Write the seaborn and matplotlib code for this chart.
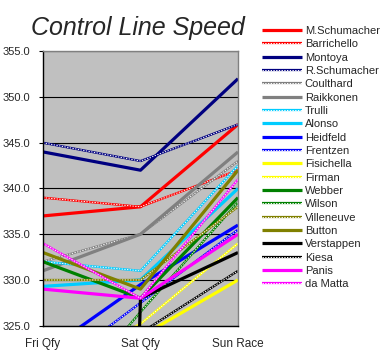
"""Control line speed per driver over the race weekend."""

import matplotlib

matplotlib.use("Agg")
import matplotlib.pyplot as plt
import pandas as pd
import seaborn as sns

sessions = ["Fri Qfy", "Sat Qfy", "Sun Race"]
drivers = [
    "M.Schumacher", "Barrichello", "Montoya", "R.Schumacher", "Coulthard",
    "Raikkonen", "Trulli", "Alonso", "Heidfeld", "Frentzen", "Fisichella",
    "Firman", "Webber", "Wilson", "Villeneuve", "Button", "Verstappen",
    "Kiesa", "Panis", "da Matta",
]
# speeds in km/h (Verstappen has no Friday time -> 0 like the source sheet)
fri_qfy = [337, 339, 344, 345, 332, 331, 332, 329.3, 322, 319.5, 318,
           320, 332, 314, 330, 333, 0, 316, 329, 334]
sat_qfy = [338, 338, 342, 343, 335, 335, 331, 330, 329.5, 327.5, 323.8,
           325.2, 328, 326.5, 330, 329, 328, 324.2, 328, 328]
sun_race = [347, 342, 352, 347, 343, 344, 342.5, 340, 336, 335.5, 330,
            334, 339, 338.5, 338, 342, 333, 331, 335, 341]

colors = ["#FF0000", "#FF0000", "#000080", "#000080", "#808080",
          "#808080", "#00CCFF", "#00CCFF", "#0000FF", "#0000FF", "#FFFF00",
          "#FFFF00", "#008000", "#008000", "#808000", "#808000", "#000000",
          "#000000", "#FF00FF", "#FF00FF"]
dotted = ["Barrichello", "R.Schumacher", "Coulthard", "Trulli", "Frentzen",
          "Firman", "Wilson", "Villeneuve", "Kiesa", "da Matta"]

df = pd.DataFrame({
    "driver": [d for d in drivers for _ in sessions],
    "pos": [i for _ in drivers for i in range(len(sessions))],
    "speed": [v for trio in zip(fri_qfy, sat_qfy, sun_race) for v in trio],
})

sns.set_style("white")
plt.rcParams["font.family"] = ["Liberation Sans", "DejaVu Sans"]

fig = plt.figure(figsize=(3.85, 3.6), dpi=100)
ax = fig.add_axes([43 / 385, 1 - 325.7 / 360, 195 / 385, 274.4 / 360])
ax.set_facecolor("#C0C0C0")

handles = []
for name, col in zip(drivers, colors):
    sub = df[df["driver"] == name]
    if name in dotted:
        sns.lineplot(sub, x="pos", y="speed", color=col, lw=1.6, ax=ax,
                     legend=False, solid_capstyle="butt")
        base = ax.lines[-1]
        sns.lineplot(sub, x="pos", y="speed", color="white", lw=0.7, ax=ax,
                     legend=False, dashes=False)
        top = ax.lines[-1]
        top.set_linestyle((0, (1.4, 1.4)))
        handles.append((base, top))
    else:
        sns.lineplot(sub, x="pos", y="speed", color=col, lw=2.3, ax=ax,
                     legend=False, solid_capstyle="butt")
        handles.append(ax.lines[-1])

ax.set_xlim(0, 2)
ax.set_ylim(325, 355)
ax.set_yticks(range(325, 356, 5))
ax.yaxis.set_major_formatter("{x:.1f}")
ax.set_xticks(range(len(sessions)))
ax.set_xticklabels(sessions)
ax.set_xlabel("")
ax.set_ylabel("")
ax.grid(axis="y", color="black", lw=0.8)
ax.set_axisbelow(True)
ax.tick_params(axis="y", direction="out", length=3, width=0.8, color="black",
               labelsize=8, pad=6, left=True)
ax.tick_params(axis="x", length=0, labelsize=8.5, pad=9)
for side in ["left", "bottom"]:
    ax.spines[side].set_color("black")
    ax.spines[side].set_linewidth(1)
for side in ["top", "right"]:
    ax.spines[side].set_color("#808080")
    ax.spines[side].set_linewidth(1)

fig.text(138 / 385, 1 - 28 / 360, "Control Line Speed", ha="center",
         va="center", fontsize=18, style="italic")

fig.legend(handles, drivers, loc="upper left",
           bbox_to_anchor=(262 / 385, 1 - 26 / 360), frameon=False,
           fontsize=8, handlelength=3.6, handletextpad=0.25,
           labelspacing=0.3, borderpad=0, borderaxespad=0)

fig.savefig("out.png", dpi=100)
